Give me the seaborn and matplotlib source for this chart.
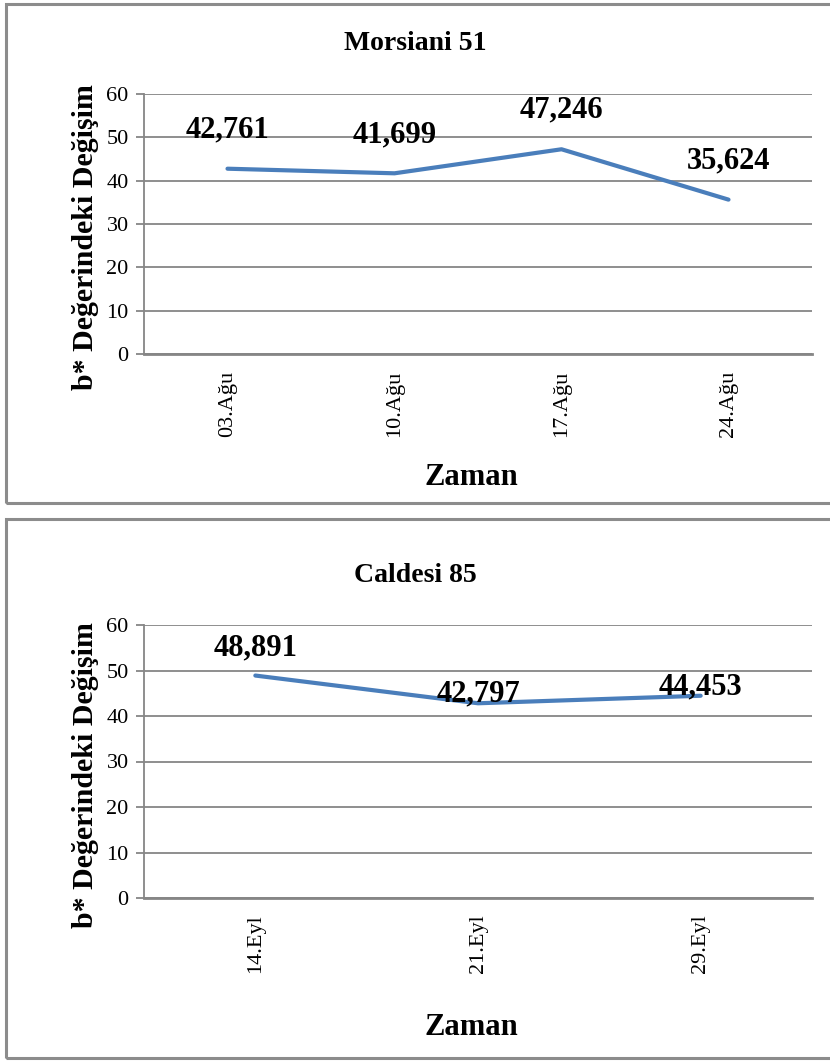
import numpy as np
import pandas as pd
import seaborn as sns
import matplotlib.pyplot as plt
from matplotlib.patches import Rectangle

# chart data
dates_top = ['03.Ağu', '10.Ağu', '17.Ağu', '24.Ağu']
values_top = [42.761, 41.699, 47.246, 35.624]
dates_bottom = ['14.Eyl', '21.Eyl', '29.Eyl']
values_bottom = [48.891, 42.797, 44.453]
titles = ['Morsiani 51', 'Caldesi 85']
y_ticks = [0, 10, 20, 30, 40, 50, 60]

sns.set_theme(style='white')
plt.rcParams['font.family'] = ['Liberation Serif', 'DejaVu Serif']
plt.rcParams['text.color'] = 'black'
plt.rcParams['axes.labelcolor'] = 'black'
plt.rcParams['xtick.color'] = 'black'
plt.rcParams['ytick.color'] = 'black'

W, H = 830, 1063
fig = plt.figure(figsize=(W / 100, H / 100), dpi=100)

line_color = '#4A7EBB'
grid_color = '#868686'


def px_axes(left, top, right, bottom):
    return fig.add_axes([left / W, 1 - bottom / H, (right - left) / W, (bottom - top) / H])


def draw_panel(ax, dates, values, title, title_y, label_dy):
    df = pd.DataFrame({'date': dates, 'value': values})
    sns.lineplot(data=df, x='date', y='value', ax=ax, color=line_color,
                 linewidth=3.0, sort=False)
    ax.set_xlim(-0.5, len(dates) - 0.5)
    ax.set_ylim(0, 60)
    ax.set_yticks(y_ticks)
    ax.grid(axis='y', color=grid_color, linewidth=1.3)
    ax.set_axisbelow(True)
    for side in ['top', 'right']:
        ax.spines[side].set_visible(False)
    ax.spines['left'].set_color(grid_color)
    ax.spines['left'].set_linewidth(1.3)
    ax.spines['bottom'].set_color(grid_color)
    ax.spines['bottom'].set_linewidth(2.0)
    ax.tick_params(axis='y', direction='out', length=6, width=1.3, color=grid_color,
                   labelcolor='black', labelsize=16, pad=5, left=True)
    ax.tick_params(axis='x', length=0, labelsize=16, pad=12, labelrotation=90,
                   labelcolor='black')
    for lab in ax.get_xticklabels():
        lab.set_verticalalignment('top')
    ax.set_ylabel('b* Değerindeki Değişim', fontsize=21.5, fontweight='bold')
    ax.set_xlabel('Zaman', fontsize=22, fontweight='bold')
    ax.yaxis.set_label_coords(-0.068, 0.45)
    for i, v in enumerate(values):
        ax.annotate(f'{v:.3f}'.replace('.', ','), (i, v), xytext=(0, label_dy[i]),
                    textcoords='offset points', ha='center', va='center',
                    fontsize=22, fontweight='bold', color='black')
    fig.text(0.5, 1 - title_y / H, title, ha='center', va='center',
             fontsize=20, fontweight='bold', color='black')


# panel frames
for top, bottom in [(4, 503), (519, 1058)]:
    fig.patches.append(Rectangle((6 / W, 1 - bottom / H), 840 / W, (bottom - top) / H,
                                 transform=fig.transFigure, fill=False,
                                 edgecolor='#8c8c8c', linewidth=2.2))

ax1 = px_axes(144, 94, 812, 354)
draw_panel(ax1, dates_top, values_top, titles[0], 44, [28, 28, 28, 28])
ax1.xaxis.set_label_coords(0.49, -0.42)

ax2 = px_axes(144, 625, 812, 898)
draw_panel(ax2, dates_bottom, values_bottom, titles[1], 576, [20, 7, 6])
ax2.xaxis.set_label_coords(0.49, -0.422)

fig.savefig('out.png', dpi=100, facecolor='white')
